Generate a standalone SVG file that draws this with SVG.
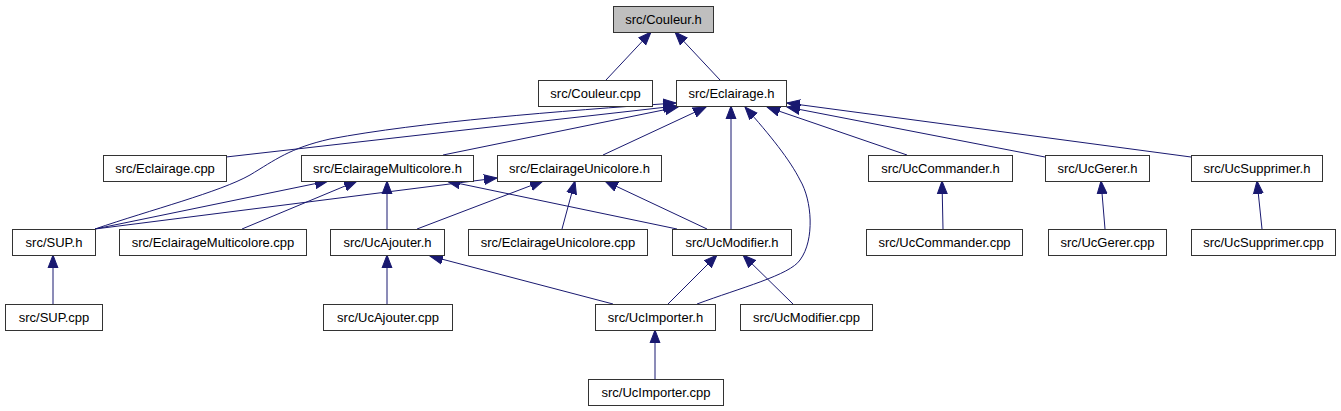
<svg xmlns="http://www.w3.org/2000/svg" width="1341" height="411" viewBox="0 0 1341 411">
<style>
.n rect{fill:#ffffff;stroke:#333333;stroke-width:1}
.n.root rect{fill:#bfbfbf}
.n text{font-family:"Liberation Sans",Arial,Helvetica,sans-serif;font-size:13px;fill:#000000;text-anchor:middle}
#edges path{fill:none;stroke:#191970;stroke-width:1;marker-end:url(#arr)}
</style>
<defs>
<marker id="arr" markerUnits="userSpaceOnUse" markerWidth="14" markerHeight="12" viewBox="0 -6 14 12" refX="13" refY="0" orient="auto">
<path d="M0,-5 L13,0 L0,5 z" fill="#191970" stroke="#191970" stroke-width="1"/>
</marker>
</defs>
<rect width="1341" height="411" fill="#ffffff"/>
<g id="edges">
<path d="M606,80 L651,32"/>
<path d="M720,80 L675,32"/>
<path d="M226,157 L676,106"/>
<path d="M95,229 C150,210 220,192 250,175 C275,160 290,148 330,139 C420,122 560,111 676,103"/>
<path d="M443,155 L678,107"/>
<path d="M603,155 L706,107"/>
<path d="M731,229 L731,106"/>
<path d="M697,304 C740,288 790,275 800,260 C815,240 812,200 800,180 C790,160 770,135 745,107"/>
<path d="M907,155 L767,107"/>
<path d="M1045,157 L787,107"/>
<path d="M1191,157 L787,103"/>
<path d="M943,229 L942,181"/>
<path d="M1105,229 L1101,181"/>
<path d="M1262,229 L1257,181"/>
<path d="M53,304 L53,255"/>
<path d="M387,304 L387,255"/>
<path d="M655,379 L655,330"/>
<path d="M668,304 L717,255"/>
<path d="M793,304 L743,255"/>
<path d="M613,304 L430,256"/>
<path d="M387,229 L387,181"/>
<path d="M417,229 L543,181"/>
<path d="M242,229 L357,181"/>
<path d="M95,229 L328,181"/>
<path d="M95,229 L497,178"/>
<path d="M562,229 L575,181"/>
<path d="M707,229 L605,181"/>
<path d="M677,229 L447,181"/>
</g>
<g id="couleur_h" class="n root"><rect x="613.5" y="6.5" width="100" height="26"/><text x="663.5" y="24">src/Couleur.h</text></g>
<g id="couleur_cpp" class="n"><rect x="538.5" y="80.5" width="114" height="26"/><text x="595.5" y="98">src/Couleur.cpp</text></g>
<g id="eclairage_h" class="n"><rect x="676.5" y="80.5" width="110" height="26"/><text x="731.5" y="98">src/Eclairage.h</text></g>
<g id="eclairage_cpp" class="n"><rect x="103.5" y="155.5" width="123" height="26"/><text x="165" y="173">src/Eclairage.cpp</text></g>
<g id="multi_h" class="n"><rect x="301.5" y="155.5" width="172" height="26"/><text x="387.5" y="173">src/EclairageMulticolore.h</text></g>
<g id="uni_h" class="n"><rect x="497.5" y="155.5" width="164" height="26"/><text x="579.5" y="173">src/EclairageUnicolore.h</text></g>
<g id="commander_h" class="n"><rect x="868.5" y="155.5" width="144" height="26"/><text x="940.5" y="173">src/UcCommander.h</text></g>
<g id="gerer_h" class="n"><rect x="1045.5" y="155.5" width="104" height="26"/><text x="1097.5" y="173">src/UcGerer.h</text></g>
<g id="supprimer_h" class="n"><rect x="1191.5" y="155.5" width="131" height="26"/><text x="1257" y="173">src/UcSupprimer.h</text></g>
<g id="sup_h" class="n"><rect x="12.5" y="229.5" width="83" height="26"/><text x="54" y="247">src/SUP.h</text></g>
<g id="multi_cpp" class="n"><rect x="119.5" y="229.5" width="187" height="26"/><text x="213" y="247">src/EclairageMulticolore.cpp</text></g>
<g id="ajouter_h" class="n"><rect x="330.5" y="229.5" width="114" height="26"/><text x="387.5" y="247">src/UcAjouter.h</text></g>
<g id="uni_cpp" class="n"><rect x="468.5" y="229.5" width="179" height="26"/><text x="558" y="247">src/EclairageUnicolore.cpp</text></g>
<g id="modifier_h" class="n"><rect x="672.5" y="229.5" width="119" height="26"/><text x="732" y="247">src/UcModifier.h</text></g>
<g id="commander_cpp" class="n"><rect x="866.5" y="229.5" width="156" height="26"/><text x="944.5" y="247">src/UcCommander.cpp</text></g>
<g id="gerer_cpp" class="n"><rect x="1048.5" y="229.5" width="118" height="26"/><text x="1107.5" y="247">src/UcGerer.cpp</text></g>
<g id="supprimer_cpp" class="n"><rect x="1191.5" y="229.5" width="144" height="26"/><text x="1263.5" y="247">src/UcSupprimer.cpp</text></g>
<g id="sup_cpp" class="n"><rect x="5.5" y="304.5" width="97" height="26"/><text x="54" y="322">src/SUP.cpp</text></g>
<g id="ajouter_cpp" class="n"><rect x="323.5" y="304.5" width="129" height="26"/><text x="388" y="322">src/UcAjouter.cpp</text></g>
<g id="importer_h" class="n"><rect x="595.5" y="304.5" width="120" height="26"/><text x="655.5" y="322">src/UcImporter.h</text></g>
<g id="modifier_cpp" class="n"><rect x="740.5" y="304.5" width="132" height="26"/><text x="806.5" y="322">src/UcModifier.cpp</text></g>
<g id="importer_cpp" class="n"><rect x="588.5" y="379.5" width="135" height="26"/><text x="656" y="397">src/UcImporter.cpp</text></g>
</svg>
